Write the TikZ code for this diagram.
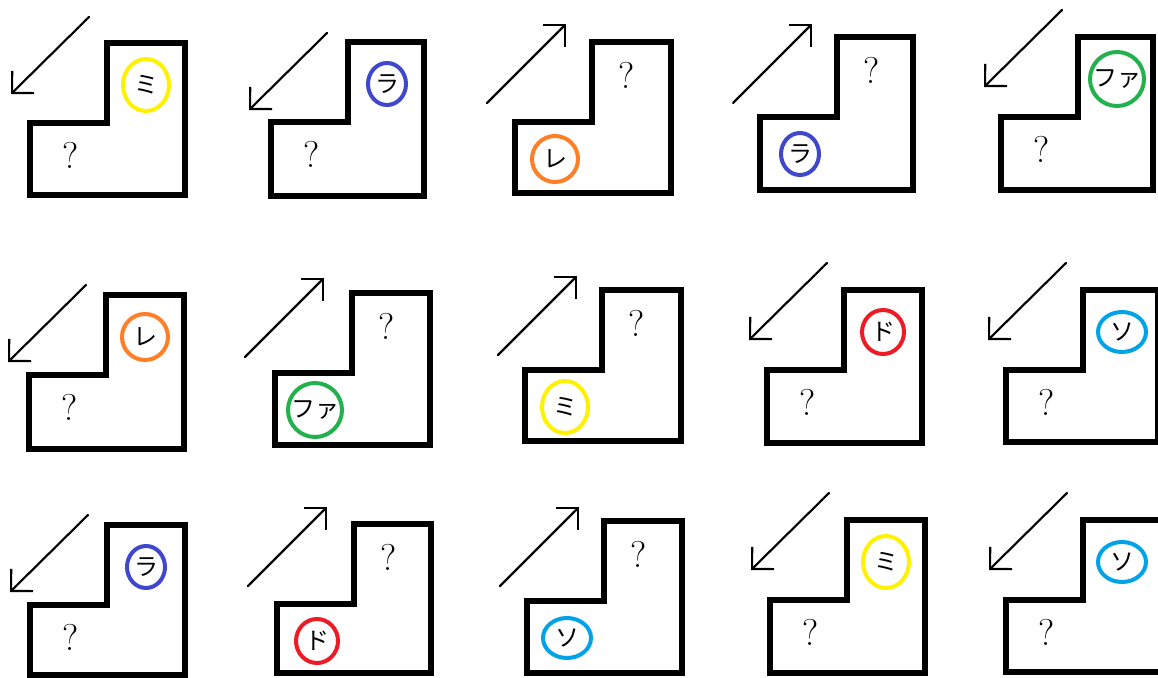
\documentclass[tikz,border=0pt]{standalone}
\usepackage{fontspec}
\usetikzlibrary{arrows.meta}
\newfontfamily\kanafont{Noto Sans CJK JP}

\tikzset{
  stairs/.style={line width=3.8pt, line join=miter},
  pencil/.style={line width=1.6pt, line cap=round, -{Straight Barb[length=11.7pt, width=23.4pt]}},
  ring/.style={line width=3pt},
  kana/.style={font=\kanafont\fontsize{18}{18}\selectfont, inner sep=0pt},
  unknown/.style={font=\fontsize{28}{28}\selectfont, inner sep=0pt},
  ringmi/.style={draw=cmi, x radius=23, y radius=26},
  ringra/.style={draw=cra, x radius=19, y radius=21},
  ringre/.style={draw=cre, x radius=23, y radius=23},
  ringfa/.style={draw=cfa, x radius=27, y radius=27},
  ringdo/.style={draw=cdo, x radius=21, y radius=22},
  ringso/.style={draw=cso, x radius=24, y radius=20},
}

\begin{document}
\begin{tikzpicture}[x=0.75pt, y=-0.75pt]
  \definecolor{cmi}{RGB}{255,242,0}
  \definecolor{cra}{RGB}{63,72,204}
  \definecolor{cre}{RGB}{255,127,39}
  \definecolor{cfa}{RGB}{34,177,76}
  \definecolor{cdo}{RGB}{237,28,36}
  \definecolor{cso}{RGB}{0,162,232}
  \useasboundingbox (0,0) rectangle (1158,678);
  \fill[white] (0,0) rectangle (1158,678);
  \clip (0,0) rectangle (1158,678);
  % cell / top-left of upper block / right / bottom / arrow tail / direction / note
  \foreach \n/\U/\T/\R/\B/\tx/\ty/\dir/\key/\kana in {
      1/107/43/185/195/89/17/0/mi/ミ,
      2/348/42/424/196/327/33/0/ra/ラ,
      3/592/42/671/193/487/103/1/re/レ,
      4/837/37/913/190/733/103/1/ra/ラ,
      5/1078/37/1153/190/1062/10/0/fa/ファ,
      6/106/295/184/449/86/285/0/re/レ,
      7/352/293/430/445/245/357/1/fa/ファ,
      8/602/290/681/441/498/355/1/mi/ミ,
      9/844/290/922/443/827/263/0/do/ド,
      10/1083/290/1158/442/1066/263/0/so/ソ,
      11/107/525/185/675/88/515/0/ra/ラ,
      12/354/524/431/673/248/586/1/do/ド,
      13/604/521/682/673/500/586/1/so/ソ,
      14/847/520/925/673/829/493/0/mi/ミ,
      15/1083/520/1170/672/1067/493/0/so/ソ} {
    \pgfmathsetmacro{\lowx}{\U-77}
    \pgfmathsetmacro{\stepy}{\T+80}
    \draw[stairs] (\lowx,\B) -- (\lowx,\stepy) -- (\U,\stepy) -- (\U,\T)
                  -- (\R,\T) -- (\R,\B) -- cycle;
    \coordinate (t\n) at (\tx,\ty);
    \ifnum\dir=0
      \coordinate (h\n) at (\tx-78,\ty+77);
      \coordinate (c\n) at (\U+39,\T+42);
      \node[unknown] (q\n) at (\U-36,\T+112) {?};
    \else
      \coordinate (h\n) at (\tx+79,\ty-79);
      \coordinate (c\n) at (\U-37,\T+117);
      \node[unknown] (q\n) at (\U+35,\T+33) {?};
    \fi
    \draw[pencil] (t\n) -- (h\n);
    \draw[ring, ring\key] (c\n) ellipse [];
    \node[kana] (k\n) at (c\n) {\kana};
  }
\end{tikzpicture}
\end{document}
